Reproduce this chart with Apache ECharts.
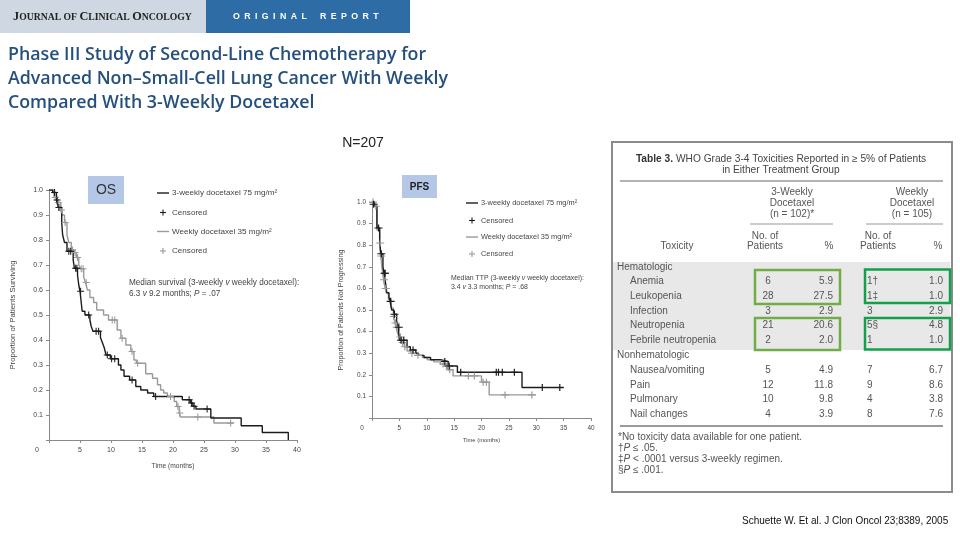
<!DOCTYPE html>
<html><head><meta charset="utf-8">
<script src="https://cdn.jsdelivr.net/npm/echarts@6/dist/echarts.min.js"></script>
<style>html,body{margin:0;padding:0;background:#fff}#c{width:960px;height:540px}</style>
</head><body><div id="c"></div>
<script>
// ---------- DATA ----------
const xTickMax = 40;
// Overall survival (months, proportion surviving)
const os3w = [[0,1.0],[0.6,0.99],[1.2,0.96],[1.5,0.93],[2.05,0.87],[2.2,0.82],[2.5,0.79],[2.9,0.755],[3.9,0.72],[4.1,0.687],[4.6,0.66],[4.8,0.62],[5.0,0.595],[5.2,0.55],[5.35,0.515],[5.8,0.50],[6.6,0.48],[6.8,0.455],[7.1,0.435],[8.3,0.41],[8.6,0.39],[8.9,0.37],[9.2,0.34],[9.9,0.325],[11.2,0.30],[11.6,0.28],[12.1,0.255],[13.0,0.24],[14.0,0.214],[14.8,0.20],[15.9,0.188],[16.9,0.174],[21.5,0.161],[22.8,0.148],[23.2,0.135],[23.7,0.124],[26.1,0.088],[31.0,0.057],[34.4,0.030],[38.6,0.0]];
const osWk = [[0,1.0],[0.8,0.97],[1.3,0.95],[1.9,0.92],[2.1,0.90],[2.5,0.87],[2.9,0.82],[3.2,0.79],[3.6,0.76],[4.0,0.75],[4.4,0.73],[4.8,0.70],[5.1,0.685],[5.6,0.65],[5.9,0.63],[6.2,0.60],[6.6,0.57],[7.2,0.55],[7.7,0.52],[8.8,0.50],[9.6,0.48],[11.0,0.44],[11.6,0.407],[12.4,0.38],[13.2,0.354],[13.7,0.32],[14.1,0.307],[15.6,0.265],[16.7,0.247],[17.5,0.221],[18.0,0.20],[18.5,0.188],[19.1,0.174],[20.2,0.154],[20.6,0.134],[21.0,0.108],[21.2,0.092],[26.6,0.068],[29.8,0.068]];
const os3wCens = [[0.9,0.99],[1.3,0.96],[1.6,0.93],[3.2,0.755],[3.5,0.755],[4.3,0.687],[4.5,0.687],[5.1,0.595],[6.4,0.50],[7.6,0.435],[8.0,0.435],[9.4,0.34],[10.1,0.325],[10.6,0.325],[13.4,0.24],[17.2,0.174],[22.6,0.161],[23.0,0.148],[23.4,0.135],[25.5,0.124]];
const osWkCens = [[1.0,0.97],[1.5,0.95],[2.0,0.92],[2.6,0.87],[3.8,0.76],[4.2,0.75],[4.6,0.73],[5.2,0.685],[5.5,0.685],[6.0,0.63],[10.2,0.48],[10.6,0.48],[11.8,0.407],[13.4,0.354],[14.3,0.307],[19.6,0.174],[20.8,0.134],[21.1,0.108],[24.0,0.092],[29.3,0.068]];
// Time to progression (months, proportion not progressing)
const pfs3w = [[0,1.0],[0.4,0.98],[0.9,0.88],[1.4,0.82],[1.6,0.76],[2.0,0.70],[2.2,0.67],[2.5,0.62],[2.7,0.58],[3.1,0.56],[3.3,0.54],[3.6,0.50],[4.0,0.48],[4.5,0.45],[4.8,0.42],[5.0,0.36],[6.4,0.33],[7.0,0.315],[8.0,0.30],[8.5,0.29],[9.5,0.28],[10.7,0.27],[12.5,0.262],[13.9,0.241],[15.6,0.212],[27.4,0.141],[35.0,0.141]];
const pfsWk = [[0,1.0],[0.5,0.98],[0.9,0.87],[1.4,0.81],[1.6,0.75],[1.8,0.70],[2.1,0.64],[2.4,0.60],[2.6,0.58],[3.0,0.55],[3.5,0.51],[3.9,0.47],[4.2,0.44],[4.4,0.42],[4.7,0.39],[5.0,0.375],[5.4,0.35],[5.9,0.33],[6.4,0.31],[7.1,0.30],[8.3,0.29],[9.2,0.28],[10.1,0.27],[11.3,0.26],[12.5,0.25],[13.2,0.24],[13.8,0.223],[14.8,0.195],[20.0,0.166],[21.4,0.107],[29.9,0.107]];
const pfs3wCens = [[0.3,0.99],[1.2,0.88],[1.7,0.76],[2.3,0.67],[2.4,0.67],[3.4,0.54],[4.1,0.48],[4.9,0.42],[5.3,0.36],[5.8,0.36],[7.5,0.315],[13.3,0.262],[14.1,0.241],[16.2,0.212],[22.7,0.212],[23.1,0.212],[23.8,0.212],[26.0,0.212],[31.1,0.141],[34.3,0.141]];
const pfsWkCens = [[0.2,1.0],[0.7,0.98],[1.5,0.81],[1.7,0.75],[2.2,0.64],[2.5,0.60],[4.0,0.47],[4.3,0.44],[4.5,0.42],[5.2,0.375],[5.6,0.35],[6.0,0.33],[7.3,0.30],[8.4,0.29],[13.0,0.25],[13.6,0.24],[14.2,0.223],[17.6,0.195],[18.7,0.195],[20.3,0.166],[20.9,0.166],[24.3,0.107],[29.2,0.107]];
// Table 3
const hemeRows = ['Anemia','Leukopenia','Infection','Neutropenia','Febrile neutropenia'];
const nonHemeRows = ['Nausea/vomiting','Pain','Pulmonary','Nail changes'];
const n3wPatients = ['6','28','3','21','2','5','12','10','4'];
const pct3w = ['5.9','27.5','2.9','20.6','2.0','4.9','11.8','9.8','3.9'];
const nWkPatients = ['1†','1‡','3','5§','1','7','9','4','8'];
const pctWk = ['1.0','1.0','2.9','4.8','1.0','6.7','8.6','3.8','7.6'];
const footnotes = ['*No toxicity data available for one patient.','†{i|P} ≤ .05.','‡{i|P} < .0001 versus 3-weekly regimen.','§{i|P} ≤ .001.'];
const titleLines = ['Phase III Study of Second-Line Chemotherapy for','Advanced Non–Small-Cell Lung Cancer With Weekly','Compared With 3-Weekly Docetaxel'];
const legendNames = ['3-weekly docetaxel 75 mg/m²','Censored','Weekly docetaxel 35 mg/m²','Censored'];

// ---------- STYLE ----------
const FF = '"Liberation Sans", Arial, sans-serif';
const BLACK = '#1c1c1c', GREY = '#9a9a9a';
const PLUS = 'path://M0,4.25H10V5.75H0Z M4.25,0H5.75V10H4.25Z';
const TFS = 10; // table font size

function txt(x, y, text, o) {
  const st = Object.assign({text: text, fill: '#555', fontSize: TFS, fontFamily: FF,
    align: 'left', textAlign: 'left', verticalAlign: 'middle', textVerticalAlign: 'middle'}, o || {});
  if (o && o.align) st.textAlign = o.align;
  return {type: 'text', x: x, y: y, silent: true, z: 10, style: st};
}
function line(x1, y1, x2, y2, c, w, z) {
  return {type: 'line', silent: true, z: z || 10, shape: {x1, y1, x2, y2}, style: {stroke: c, lineWidth: w}};
}
function rect(x, y, w, h, fill, stroke, lw, z) {
  return {type: 'rect', silent: true, z: z || 5, shape: {x, y, width: w, height: h}, style: {fill: fill, stroke: stroke || null, lineWidth: lw || 0}};
}

const g = [];
// header bands
g.push(rect(0, 0, 206, 33, '#cfd8e2'));
g.push(rect(206, 0, 204, 33, '#2e6ca5'));
g.push(txt(13, 17, '{b|J}{s|OURNAL OF }{b|C}{s|LINICAL }{b|O}{s|NCOLOGY}', {fill: '#222',
  rich: {b: {fontSize: 12.3, fontFamily: '"Liberation Serif", serif', fontWeight: 'bold', fill: '#222'},
         s: {fontSize: 9.7, fontFamily: '"Liberation Serif", serif', fontWeight: 'bold', fill: '#222'}}}));
g.push(txt(233, 17, 'O\u2002R\u2002I\u2002G\u2002I\u2002N\u2002A\u2002L\u2002\u2002\u2002R\u2002E\u2002P\u2002O\u2002R\u2002T', {fill: '#fff', fontSize: 8.8, fontWeight: 'bold'}));
titleLines.forEach((t, i) => g.push(txt(8, 54.5 + i * 24.3, t, {fill: '#25507d', fontSize: 17.8, fontWeight: 600, fontFamily: '"Open Sans", sans-serif'})));
g.push(txt(363, 143, 'N=207', {fill: '#222', fontSize: 14, align: 'center'}));

// OS / PFS label boxes
g.push(rect(88, 176, 36, 28, '#b4c7e7'));
g.push(txt(106, 190, 'OS', {fill: '#333', fontSize: 14, align: 'center'}));
g.push(rect(402, 175, 35, 23, '#b4c7e7'));
g.push(txt(419.5, 187, 'PFS', {fill: '#222', fontSize: 10, fontWeight: 'bold', align: 'center'}));

// legends
function legend(x0, ys, fs) {
  g.push(line(x0, ys[0], x0 + 12, ys[0], BLACK, 1.4));
  g.push(line(x0 + 6, ys[1] - 3, x0 + 6, ys[1] + 3, BLACK, 1.1));
  g.push(line(x0 + 3, ys[1], x0 + 9, ys[1], BLACK, 1.1));
  g.push(line(x0, ys[2], x0 + 12, ys[2], GREY, 1.4));
  g.push(line(x0 + 6, ys[3] - 3, x0 + 6, ys[3] + 3, GREY, 1.1));
  g.push(line(x0 + 3, ys[3], x0 + 9, ys[3], GREY, 1.1));
  legendNames.forEach((n, i) => g.push(txt(x0 + 15, ys[i], n, {fill: '#444', fontSize: fs})));
}
legend(157, [193, 212.5, 231.5, 251], 8.1);
legend(466, [203, 220.5, 237, 254], 7.4);
function itRich(fs) { return {i: {fontStyle: 'italic', fill: '#444', fontSize: fs, fontFamily: FF}}; }
g.push(txt(129, 283, 'Median survival (3-weekly {i|v} weekly docetaxel):', {fill: '#444', fontSize: 8.2, rich: itRich(8.2)}));
g.push(txt(129, 293.5, '6.3 {i|v} 9.2 months; {i|P} = .07', {fill: '#444', fontSize: 8.2, rich: itRich(8.2)}));
g.push(txt(451, 278, 'Median TTP (3-weekly {i|v} weekly docetaxel):', {fill: '#444', fontSize: 6.9, rich: itRich(6.9)}));
g.push(txt(451, 287, '3.4 {i|v} 3.3 months; {i|P} = .68', {fill: '#444', fontSize: 6.9, rich: itRich(6.9)}));

// ---------- TABLE ----------
g.push(rect(612, 142, 340, 350, '#fff', '#8c8c8c', 2, 1));
g.push(rect(613, 262, 337, 88, '#e8e8e8', null, 0, 2));
g.push(txt(781, 159, '{b|Table 3.} WHO Grade 3-4 Toxicities Reported in ≥ 5% of Patients', {fill: '#444', fontSize: 10.2, align: 'center',
  rich: {b: {fontWeight: 'bold', fill: '#333', fontSize: 10.2, fontFamily: FF}}}));
g.push(txt(781, 170, 'in Either Treatment Group', {fill: '#444', fontSize: 10.2, align: 'center'}));
g.push(line(620, 181, 943, 181, '#9a9a9a', 1.5));
['3-Weekly', 'Docetaxel', '(n = 102)*'].forEach((t, i) => g.push(txt(792, 192.5 + i * 10.8, t, {align: 'center'})));
['Weekly', 'Docetaxel', '(n = 105)'].forEach((t, i) => g.push(txt(912, 192.5 + i * 10.8, t, {align: 'center'})));
g.push(line(750, 224, 833, 224, '#9a9a9a', 1.2));
g.push(line(866, 224, 943, 224, '#9a9a9a', 1.2));
g.push(txt(765, 236, 'No. of', {align: 'center'}));
g.push(txt(765, 246.5, 'Patients', {align: 'center'}));
g.push(txt(829, 246.5, '%', {align: 'center'}));
g.push(txt(878, 236, 'No. of', {align: 'center'}));
g.push(txt(878, 246.5, 'Patients', {align: 'center'}));
g.push(txt(938, 246.5, '%', {align: 'center'}));
g.push(txt(677, 246.5, 'Toxicity', {align: 'center'}));
g.push(txt(617, 267.5, 'Hematologic'));
g.push(txt(617, 355.5, 'Nonhematologic'));
const allRows = hemeRows.concat(nonHemeRows);
allRows.forEach((name, i) => {
  const y = i < hemeRows.length ? 281.7 + i * 14.6 : 370.5 + (i - hemeRows.length) * 14.6;
  g.push(txt(630, y, name));
  g.push(txt(768, y, n3wPatients[i], {align: 'center'}));
  g.push(txt(833, y, pct3w[i], {align: 'right'}));
  g.push(txt(867, y, nWkPatients[i], {align: 'left'}));
  g.push(txt(943, y, pctWk[i], {align: 'right'}));
});
g.push(line(620, 426, 943, 426, '#9a9a9a', 1.8));
footnotes.forEach((f, i) => g.push(txt(618, 437.3 + i * 11, f, {rich: {i: {fontStyle: 'italic', fill: '#555', fontSize: TFS, fontFamily: FF}}})));
// highlight boxes
g.push(rect(755, 270, 85, 34, null, '#70ad47', 2.5, 20));
g.push(rect(755, 318, 85, 32, null, '#70ad47', 2.5, 20));
g.push(rect(865, 269.5, 85, 33.5, null, '#12a04b', 2.5, 20));
g.push(rect(865, 318, 85, 31.5, null, '#12a04b', 2.5, 20));
g.push(txt(742, 521.5, 'Schuette W. Et al. J Clon Oncol 23;8389, 2005', {fill: '#111', fontSize: 10}));

// ---------- CHART ----------
function xAx(gi, fs, nfs, gap, zeroShift) {
  return {type: 'value', gridIndex: gi, min: 0, max: xTickMax, interval: 5,
    axisLine: {show: true, lineStyle: {color: '#8a8a8a', width: 1}},
    axisTick: {show: true, length: 3, lineStyle: {color: '#8a8a8a'}},
    splitLine: {show: false},
    axisLabel: {fontSize: fs, color: '#444', fontFamily: FF, margin: 7,
      formatter: v => v === 0 ? '{z|0}' : String(v),
      rich: {z: {fontSize: fs, color: '#444', fontFamily: FF, padding: [0, zeroShift, 0, 0]}}},
    name: 'Time (months)', nameLocation: 'middle', nameGap: gap,
    nameTextStyle: {fontSize: nfs, color: '#444', fontFamily: FF}};
}
function yAx(gi, fs, nfs, gap, name) {
  return {type: 'value', gridIndex: gi, min: 0, max: 1, interval: 0.1,
    axisLine: {show: true, lineStyle: {color: '#8a8a8a', width: 1}},
    axisTick: {show: true, length: 3, lineStyle: {color: '#8a8a8a'}},
    splitLine: {show: false},
    axisLabel: {fontSize: fs, color: '#444', fontFamily: FF, margin: 6,
      formatter: v => v === 0 ? '' : v.toFixed(1)},
    name: name, nameLocation: 'middle', nameGap: gap, nameRotate: 90,
    nameTextStyle: {fontSize: nfs, color: '#444', fontFamily: FF}};
}
function km(name, data, xi, color, z) {
  return {name, type: 'line', step: 'end', xAxisIndex: xi, yAxisIndex: xi, data,
    symbol: 'none', lineStyle: {color, width: 1.4}, itemStyle: {color}, z, silent: true, animation: false};
}
function cens(name, data, xi, color, size, z) {
  return {name, type: 'scatter', xAxisIndex: xi, yAxisIndex: xi, data,
    symbol: PLUS, symbolSize: size, itemStyle: {color, opacity: 1}, z, silent: true, animation: false};
}

const chart = echarts.init(document.getElementById('c'), null, {renderer: 'canvas'});
chart.setOption({
  animation: false,
  backgroundColor: '#fff',
  grid: [
    {left: 49, top: 190, width: 248, height: 250},
    {left: 372, top: 202, width: 219, height: 216}
  ],
  xAxis: [xAx(0, 7, 6.7, 23, 24), xAx(1, 6.4, 5.8, 19, 20)],
  yAxis: [yAx(0, 7, 7.8, 32, 'Proportion of Patients Surviving'), yAx(1, 6.4, 7.1, 27, 'Proportion of Patients Not Progressing')],
  series: [
    km('Weekly OS', osWk, 0, GREY, 2),
    km('3-weekly OS', os3w, 0, BLACK, 3),
    cens('Censored weekly OS', osWkCens, 0, GREY, [7, 7], 4),
    cens('Censored 3-weekly OS', os3wCens, 0, BLACK, [7, 7], 5),
    km('Weekly TTP', pfsWk, 1, GREY, 2),
    km('3-weekly TTP', pfs3w, 1, BLACK, 3),
    cens('Censored weekly TTP', pfsWkCens, 1, GREY, [8, 7], 4),
    cens('Censored 3-weekly TTP', pfs3wCens, 1, BLACK, [8, 7], 5)
  ],
  graphic: {elements: g}
});
</script>
</body></html>
